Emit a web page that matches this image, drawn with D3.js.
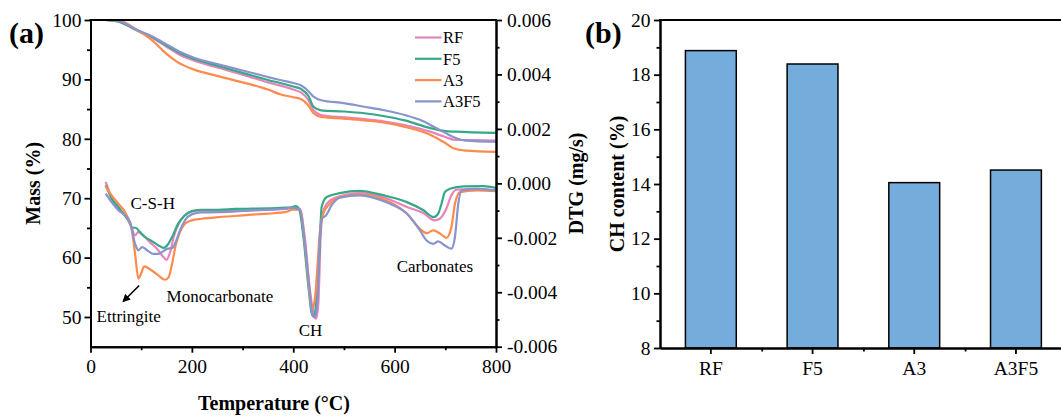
<!DOCTYPE html>
<html>
<head>
<meta charset="utf-8">
<script src="https://cdn.jsdelivr.net/npm/d3@7/dist/d3.min.js"></script>
<style>
  html, body { margin: 0; padding: 0; background: #fff; }
  svg { display: block; font-family: "Liberation Serif", "Times New Roman", serif; }
</style>
</head>
<body>
<svg id="chart" width="1061" height="419"></svg>
<script>
// ---------- data: panel (a) TG / DTG ----------
const seriesNames = ["RF", "F5", "A3", "A3F5"];
const seriesColors = ["#E883BD", "#35A886", "#FF8A4E", "#8894CC"];

// TG: [temperature °C, mass %]
const tgRF = [[30,100],[60,99.6],[90,98.3],[120,97.1],[150,95.5],[175,94.2],[206,93.1],[250,92.0],[300,90.8],[350,89.5],[400,88.3],[415,87.8],[430,86.5],[440,84.8],[455,84.0],[500,83.6],[540,83.3],[580,82.9],[620,82.3],[670,81.2],[700,80.3],[720,79.8],[760,79.8],[800,79.7]];
const tgF5 = [[30,100],[60,99.6],[90,98.3],[120,97.2],[150,95.7],[175,94.5],[206,93.4],[250,92.3],[300,91.1],[350,89.9],[374,89.4],[400,88.8],[415,88.4],[430,87.2],[440,85.4],[455,84.8],[500,84.6],[540,84.3],[580,83.8],[620,83.1],[670,81.8],[700,81.3],[720,81.2],[800,81.0]];
const tgA3 = [[30,100],[60,99.8],[90,98.4],[120,96.7],[150,94.3],[170,93.0],[206,91.6],[250,90.6],[300,89.5],[350,88.3],[374,87.5],[400,87.0],[415,86.7],[430,85.6],[440,84.3],[455,83.7],[500,83.4],[540,83.1],[580,82.7],[620,82.0],[670,80.7],[700,79.3],[716,78.4],[740,78.0],[800,77.8]];
const tgA3F5 = [[30,100],[60,99.7],[90,98.4],[120,97.3],[150,95.9],[175,94.7],[206,93.6],[250,92.6],[300,91.5],[350,90.4],[374,89.9],[400,89.4],[415,89.0],[430,88.0],[440,87.1],[455,86.5],[500,86.0],[540,85.4],[580,84.8],[620,84.0],[650,83.2],[680,81.9],[700,81.0],[716,80.3],[740,79.7],[800,79.5]];

// DTG: [temperature °C, DTG mg/s]
const dtgRF = [[30,0.00005],[35,-0.0002],[45,-0.00069],[55,-0.00093],[68,-0.00118],[78,-0.00148],[88,-0.00191],[94,-0.00179],[104,-0.00191],[117,-0.00216],[131,-0.0024],[144,-0.00271],[150,-0.00281],[157,-0.00253],[165,-0.00191],[176,-0.00142],[190,-0.00111],[206,-0.00102],[252,-0.00102],[318,-0.00099],[384,-0.00094],[400,-0.00092],[413,-0.00094],[423,-0.00203],[433,-0.00393],[441,-0.00485],[445,-0.00497],[449.5,-0.00442],[454,-0.00197],[458,-0.00112],[466,-0.00075],[479,-0.00056],[492,-0.00048],[531,-0.00036],[564,-0.00044],[591,-0.0006],[624,-0.00087],[657,-0.00109],[679,-0.00136],[689,-0.0013],[702,-0.00093],[712,-0.00044],[722,-0.00023],[762,-0.0002],[800,-0.00027]];
const dtgF5 = [[30,-0.00007],[42,-0.00056],[55,-0.00087],[65,-0.00112],[75,-0.00136],[82.5,-0.00163],[89,-0.00163],[97.6,-0.00179],[107.5,-0.00197],[121,-0.00212],[134,-0.00228],[145,-0.00237],[153.5,-0.00222],[161,-0.00197],[173,-0.00148],[186,-0.00118],[200,-0.00102],[219,-0.00097],[252,-0.00097],[285,-0.00094],[318,-0.00093],[351,-0.00092],[384,-0.00089],[394,-0.00089],[405,-0.00084],[412,-0.00097],[420,-0.00197],[430,-0.00381],[436.5,-0.00479],[441,-0.00491],[446,-0.00418],[451.5,-0.00259],[456,-0.00087],[466,-0.0005],[492,-0.00036],[531,-0.00028],[564,-0.00038],[591,-0.0005],[624,-0.00069],[657,-0.00099],[677,-0.00124],[686,-0.00111],[692.5,-0.00075],[699,-0.00032],[709,-0.0002],[736,-0.00011],[775,-0.0001],[800,-0.00017]];
const dtgA3 = [[30,-0.00011],[41.6,-0.00044],[55,-0.00075],[68,-0.00105],[74.6,-0.0013],[81,-0.00167],[88,-0.00259],[94.4,-0.0035],[99.6,-0.00332],[106,-0.00305],[120.7,-0.0032],[133.8,-0.00338],[147,-0.00354],[153.5,-0.00347],[161,-0.00295],[168,-0.00228],[176.5,-0.00179],[186.4,-0.00148],[199.6,-0.00136],[219,-0.0013],[252,-0.00124],[285,-0.0012],[318,-0.00115],[351,-0.00111],[384,-0.00106],[400,-0.00097],[413,-0.00097],[423,-0.00222],[433,-0.00418],[437,-0.00467],[443,-0.00418],[453,-0.00173],[459,-0.00112],[472,-0.00075],[492,-0.0005],[531,-0.0004],[564,-0.0005],[591,-0.00069],[624,-0.00111],[650,-0.00167],[663,-0.00183],[676,-0.00173],[690,-0.00185],[702,-0.002],[712,-0.00161],[719,-0.00075],[729,-0.00032],[762,-0.00026],[800,-0.00029]];
const dtgA3F5 = [[30,-0.00038],[41.6,-0.00069],[55,-0.00099],[68,-0.00118],[78,-0.00142],[88,-0.00222],[94.4,-0.00246],[102,-0.00234],[114,-0.00249],[124,-0.00259],[134,-0.00259],[144,-0.00249],[152,-0.0024],[161.6,-0.00237],[168,-0.00216],[176.5,-0.00173],[186.4,-0.00136],[199.6,-0.00114],[219,-0.00107],[252,-0.00106],[318,-0.00099],[384,-0.00093],[394,-0.00089],[413,-0.00097],[423,-0.00222],[433,-0.00406],[438,-0.00485],[443,-0.00491],[447.5,-0.00442],[453,-0.00173],[456.5,-0.0013],[464.5,-0.00118],[475.6,-0.00081],[492,-0.00053],[531,-0.00044],[564,-0.00056],[591,-0.00075],[624,-0.00111],[650,-0.00173],[663,-0.0021],[676.5,-0.00222],[686,-0.00213],[699,-0.00228],[712,-0.0024],[719,-0.00197],[725.6,-0.00075],[732,-0.00026],[762,-0.0002],[800,-0.00026]];

const tgSeries = [tgRF, tgF5, tgA3, tgA3F5];
const dtgSeries = [dtgRF, dtgF5, dtgA3, dtgA3F5];

const tempTicks = [0, 200, 400, 600, 800];
const massTicks = [50, 60, 70, 80, 90, 100];
const dtgTicks = [-0.006, -0.004, -0.002, 0, 0.002, 0.004, 0.006];

// ---------- data: panel (b) CH content ----------
const samples = ["RF", "F5", "A3", "A3F5"];
const chContent = [18.88, 18.39, 14.05, 14.51];
const chTicks = [8, 10, 12, 14, 16, 18, 20];

// ---------- drawing ----------
const svg = d3.select("#chart");
const tickFont = "19.5px";

function styleAxis(g, size) {
  g.selectAll(".domain").attr("stroke", "#000").attr("stroke-width", 2);
  g.selectAll(".tick line").attr("stroke", "#000").attr("stroke-width", 1.8);
  g.selectAll(".tick text").attr("fill", "#000").style("font-size", size || tickFont)
    .style("font-family", "'Liberation Serif', serif");
}

// panel (a)
const A = { left: 90.5, right: 496, top: 20, bottom: 346.7 };
const xT = d3.scaleLinear().domain([0, 800]).range([A.left, A.right]);
const yM = d3.scaleLinear().domain([45, 100]).range([A.bottom, A.top]);
const yD = d3.scaleLinear().domain([-0.006, 0.006]).range([A.bottom, A.top]);

svg.append("defs").append("clipPath").attr("id", "clipA")
  .append("rect").attr("x", A.left).attr("y", A.top - 1)
  .attr("width", A.right - A.left).attr("height", A.bottom - A.top + 1);

const plotA = svg.append("g").attr("clip-path", "url(#clipA)");
const tgLine = d3.line().x(d => xT(d[0])).y(d => yM(d[1])).curve(d3.curveMonotoneX);
const dtgLine = d3.line().x(d => xT(d[0])).y(d => yD(d[1])).curve(d3.curveMonotoneX);

dtgSeries.forEach((s, i) => {
  plotA.append("path").datum(s).attr("d", dtgLine)
    .attr("fill", "none").attr("stroke", seriesColors[i]).attr("stroke-width", 2.2)
    .attr("stroke-linejoin", "round");
});
tgSeries.forEach((s, i) => {
  plotA.append("path").datum(s).attr("d", tgLine)
    .attr("fill", "none").attr("stroke", seriesColors[i]).attr("stroke-width", 2.2)
    .attr("stroke-linejoin", "round");
});

// axes (a)
const minorT = d3.range(100, 800, 200);
const minorM = d3.range(55, 100, 10);
const minorD = [-0.005, -0.003, -0.001, 0.001, 0.003, 0.005];

svg.append("g").attr("transform", `translate(0,${A.bottom})`)
  .call(d3.axisBottom(xT).tickValues(minorT).tickSize(3.5).tickFormat("").tickSizeOuter(0))
  .call(g => styleAxis(g));
svg.append("g").attr("transform", `translate(0,${A.bottom})`)
  .call(d3.axisBottom(xT).tickValues(tempTicks).tickSize(6).tickPadding(6.5).tickFormat(d3.format("d")).tickSizeOuter(0))
  .call(g => styleAxis(g));

svg.append("g").attr("transform", `translate(${A.left},0)`)
  .call(d3.axisLeft(yM).tickValues(minorM).tickSize(3.5).tickFormat("").tickSizeOuter(0))
  .call(g => styleAxis(g));
svg.append("g").attr("transform", `translate(${A.left},0)`)
  .call(d3.axisLeft(yM).tickValues(massTicks).tickSize(6).tickPadding(3).tickFormat(d3.format("d")).tickSizeOuter(0))
  .call(g => styleAxis(g));

svg.append("g").attr("transform", `translate(${A.right},0)`)
  .call(d3.axisRight(yD).tickValues(minorD).tickSize(3.5).tickFormat("").tickSizeOuter(0))
  .call(g => styleAxis(g));
svg.append("g").attr("transform", `translate(${A.right},0)`)
  .call(d3.axisRight(yD).tickValues(dtgTicks).tickSize(6).tickPadding(5).tickFormat(d3.format(".3f")).tickSizeOuter(0))
  .call(g => styleAxis(g))
  .call(g => g.selectAll(".tick text").text(d => d3.format(".3f")(d).replace("−", "-")));

// top frame (a)
svg.append("line").attr("x1", A.left - 1).attr("x2", A.right + 1)
  .attr("y1", A.top).attr("y2", A.top).attr("stroke", "#000").attr("stroke-width", 2);

// legend (a)
const legend = svg.append("g");
seriesNames.forEach((n, i) => {
  const y = 37.5 + i * 21.3;
  legend.append("line").attr("x1", 415).attr("x2", 441.5).attr("y1", y).attr("y2", y)
    .attr("stroke", seriesColors[i]).attr("stroke-width", 2.2);
  legend.append("text").attr("x", 443).attr("y", y + 5.8).text(n)
    .style("font-size", "16.5px").attr("fill", "#000");
});

// annotations (a)
const ann = svg.append("g").style("font-size", "17px").attr("fill", "#000");
ann.append("text").attr("x", xT(79)).attr("y", yD(-0.00096)).text("C-S-H");
ann.append("text").attr("x", xT(150)).attr("y", yD(-0.00434)).text("Monocarbonate");
ann.append("text").attr("x", xT(12)).attr("y", yD(-0.00511)).text("Ettringite");
ann.append("text").attr("x", xT(434)).attr("y", yD(-0.00562)).attr("text-anchor", "middle").text("CH");
ann.append("text").attr("x", xT(604)).attr("y", yD(-0.00324)).text("Carbonates");

svg.select("defs").append("marker").attr("id", "arrowHead")
  .attr("viewBox", "0 0 10 10").attr("refX", 8).attr("refY", 5)
  .attr("markerWidth", 5).attr("markerHeight", 5).attr("orient", "auto")
  .append("path").attr("d", "M0,0 L10,5 L0,10 Z").attr("fill", "#000");
svg.append("line")
  .attr("x1", xT(96)).attr("y1", yD(-0.00375))
  .attr("x2", xT(65)).attr("y2", yD(-0.00433))
  .attr("stroke", "#000").attr("stroke-width", 1.6).attr("marker-end", "url(#arrowHead)");

// axis titles (a)
svg.append("text").attr("transform", `translate(40,${(A.top + A.bottom) / 2}) rotate(-90)`)
  .attr("text-anchor", "middle").style("font-size", "20px").style("font-weight", "bold").text("Mass (%)");
svg.append("text").attr("transform", `translate(583,${(A.top + A.bottom) / 2}) rotate(-90)`)
  .attr("text-anchor", "middle").style("font-size", "20px").style("font-weight", "bold").text("DTG (mg/s)");
svg.append("text").attr("x", 274).attr("y", 410)
  .attr("text-anchor", "middle").style("font-size", "20px").style("font-weight", "bold").text("Temperature (°C)");
svg.append("text").attr("x", 9).attr("y", 43)
  .style("font-size", "30px").style("font-weight", "bold").text("(a)");

// panel (b)
const B = { left: 660, right: 1066.8, top: 20, bottom: 348 };
const xS = d3.scaleBand().domain(samples).range([B.left, B.right]).paddingInner(0.5).paddingOuter(0.25);
const yC = d3.scaleLinear().domain([8, 20]).range([B.bottom, B.top]);

svg.append("g").selectAll("rect").data(samples).join("rect")
  .attr("x", d => xS(d)).attr("width", xS.bandwidth())
  .attr("y", (d, i) => yC(chContent[i])).attr("height", (d, i) => yC(8) - yC(chContent[i]))
  .attr("fill", "#74ADDC").attr("stroke", "#000").attr("stroke-width", 1.5);

// minor x ticks between categories
const xMinorScale = d3.scaleLinear().domain([0, 4]).range([B.left, B.right]);
svg.append("g").attr("transform", `translate(0,${B.bottom})`)
  .call(d3.axisBottom(xMinorScale).tickValues([1, 2, 3]).tickSize(3.5).tickFormat("").tickSizeOuter(0))
  .call(g => styleAxis(g));
svg.append("g").attr("transform", `translate(0,${B.bottom})`)
  .call(d3.axisBottom(xS).tickSize(6).tickPadding(7).tickSizeOuter(0))
  .call(g => styleAxis(g));

svg.append("g").attr("transform", `translate(${B.left},0)`)
  .call(d3.axisLeft(yC).tickValues(d3.range(9, 20, 2)).tickSize(3.5).tickFormat("").tickSizeOuter(0))
  .call(g => styleAxis(g));
svg.append("g").attr("transform", `translate(${B.left},0)`)
  .call(d3.axisLeft(yC).tickValues(chTicks).tickSize(6).tickPadding(3.5).tickFormat(d3.format("d")).tickSizeOuter(0))
  .call(g => styleAxis(g));

svg.append("line").attr("x1", B.left - 1).attr("x2", B.right)
  .attr("y1", B.top).attr("y2", B.top).attr("stroke", "#000").attr("stroke-width", 2);
svg.append("line").attr("x1", B.right).attr("x2", B.right)
  .attr("y1", B.top).attr("y2", B.bottom).attr("stroke", "#000").attr("stroke-width", 2);

svg.append("text").attr("transform", `translate(624,${(B.top + B.bottom) / 2}) rotate(-90)`)
  .attr("text-anchor", "middle").style("font-size", "20px").style("font-weight", "bold").text("CH content (%)");
svg.append("text").attr("x", 585).attr("y", 43)
  .style("font-size", "30px").style("font-weight", "bold").text("(b)");
</script>
</body>
</html>
